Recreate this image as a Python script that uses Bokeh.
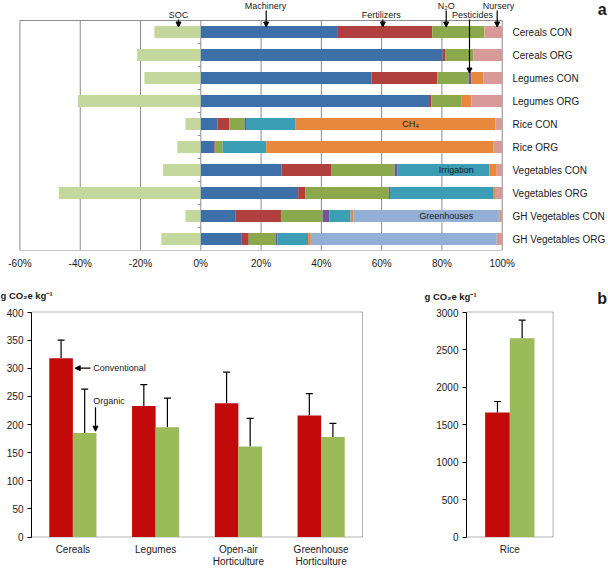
from bokeh.plotting import figure
from bokeh.models import (Range1d, Label, Arrow, NormalHead, TeeHead, Whisker, BoxAnnotation,
                          ColumnDataSource, PrintfTickFormatter, FixedTicker)
from bokeh.layouts import column, row
from bokeh.embed import file_html
from bokeh.resources import INLINE

FONT = "Liberation Sans"

# ---------------- data: panel a (share of emissions, %) ----------------
rows = ["Cereals CON", "Cereals ORG", "Legumes CON", "Legumes ORG", "Rice CON", "Rice ORG",
        "Vegetables CON", "Vegetables ORG", "GH Vegetables CON", "GH Vegetables ORG"]
soc = [-15.4, -21.1, -18.7, -40.8, -5.1, -7.8, -12.5, -47.1, -5.1, -13.1]
machinery = [45.5, 80.2, 56.6, 75.7, 5.5, 4.5, 26.8, 32.3, 11.6, 13.6]
fertilizers = [31.3, 1.0, 21.9, 0.8, 4.0, 0.4, 16.6, 2.4, 15.0, 2.3]
n2o = [17.3, 9.3, 10.4, 9.9, 5.0, 2.3, 20.9, 27.7, 13.8, 9.0]
pesticides = [0.0, 0.0, 0.9, 0.0, 0.5, 0.0, 1.0, 0.4, 2.2, 0.5]
irrigation = [0.0, 0.0, 0.0, 0.0, 16.3, 14.5, 30.4, 34.4, 7.1, 10.2]
ch4 = [0.0, 0.0, 4.0, 3.4, 66.4, 75.3, 2.5, 0.4, 0.9, 0.9]
greenhouses = [0.0, 0.0, 0.0, 0.0, 0.0, 0.0, 0.0, 0.0, 48.3, 61.7]
nursery = [5.9, 9.5, 6.2, 10.2, 2.3, 3.0, 1.8, 2.4, 1.1, 1.8]
pct_ticks = [-60, -40, -20, 0, 20, 40, 60, 80, 100]

# ---------------- data: panel b (g CO2e per kg) ----------------
groups = ["Cereals", "Legumes", "Open-air\nHorticulture", "Greenhouse\nHorticulture"]
conv = [318, 233, 238, 216]
conv_err = [32, 38, 55, 39]
org = [185, 195, 161, 178]
org_err = [78, 52, 50, 24]
rice_group = ["Rice"]
rice_conv = [1660]
rice_conv_err = [147]
rice_org = [2651]
rice_org_err = [240]
left_ticks = [0, 50, 100, 150, 200, 250, 300, 350, 400]
rice_ticks = [0, 500, 1000, 1500, 2000, 2500, 3000]

# ---------------- styles ----------------
stack_keys = ["machinery", "fertilizers", "n2o", "pesticides", "irrigation", "ch4",
              "greenhouses", "nursery"]
stack_colors = ["#3F6FA8", "#B0403D", "#8BA84C", "#6E5697", "#3B9EB4", "#E8883C",
                "#94AFD6", "#D89A99"]
soc_color = "#C4D89D"
red = "#C20A0A"
green = "#9BBA59"
grid_gray = "#8C8C8C"
TXT = "#1A1A1A"


def add_label(p, x, y, text, size="9px", align="center", bold=False, baseline="middle"):
    p.add_layout(Label(x=x, y=y, text=text, text_font=FONT, text_font_size=size,
                       text_align=align, text_baseline=baseline, text_color=TXT,
                       text_font_style="bold" if bold else "normal"))


def add_arrow(p, x0, y0, x1, y1, size=5):
    p.add_layout(Arrow(end=NormalHead(size=size, fill_color="black", line_color="black",
                                      line_width=1),
                       x_start=x0, y_start=y0, x_end=x1, y_end=y1,
                       line_color="black", line_width=1.2))


def bare(p):
    p.outline_line_color = None
    p.xgrid.grid_line_color = None
    p.ygrid.grid_line_color = None
    p.background_fill_color = "white"
    p.border_fill_color = "white"


# =============== panel a ===============
# reference-pixel -> data helpers (layout only)
def tx(rx):
    return (rx - 200.3) / 3.014


def ty(ry):
    return 10 - (ry - 20) / 23.0


n = len(rows)
ypos = [n - i - 0.5 for i in range(n)]

pa = figure(width=608, height=280, output_backend="svg", toolbar_location=None,
            x_range=Range1d(tx(0), tx(608)), y_range=Range1d(ty(250), ty(0)),
            y_axis_location=None, min_border_left=0, min_border_right=0,
            min_border_top=0, min_border_bottom=30)
bare(pa)

# frame box and vertical gridlines of the chart area
pa.segment(x0=pct_ticks, y0=0, x1=pct_ticks, y1=n, line_color=grid_gray, line_width=1)
pa.segment(x0=pct_ticks[0], y0=[0, n], x1=pct_ticks[-1], y1=[0, n], line_color=grid_gray,
           line_width=1)
# small category ticks on the zero line
pa.segment(x0=-1.0, y0=list(range(1, n)), x1=0, y1=list(range(1, n)), line_color=grid_gray,
           line_width=1)

src = ColumnDataSource(dict(y=ypos, cat=rows, soc=soc, machinery=machinery,
                            fertilizers=fertilizers, n2o=n2o, pesticides=pesticides,
                            irrigation=irrigation, ch4=ch4, greenhouses=greenhouses,
                            nursery=nursery))
pa.hbar(y="y", left="soc", right=0, height=0.52, source=src, fill_color=soc_color,
        line_color=None)
pa.hbar_stack(stack_keys, y="y", height=0.52, color=stack_colors, source=src,
              line_color=None)
pa.text(x=tx(512), y="y", text="cat", source=src, text_font={"value": FONT},
        text_font_size="10px", text_align="left", text_baseline="middle", text_color=TXT)

pa.xaxis.ticker = FixedTicker(ticks=pct_ticks)
pa.xaxis.formatter = PrintfTickFormatter(format="%d%%")
pa.xaxis.axis_line_color = None
pa.xaxis.major_tick_line_color = None
pa.xaxis.minor_tick_line_color = None
pa.xaxis.major_tick_out = 0
pa.xaxis.major_tick_in = 0
pa.xaxis.major_label_standoff = 7
pa.xaxis.major_label_text_font = FONT
pa.xaxis.major_label_text_font_size = "10px"
pa.xaxis.major_label_text_color = TXT

for text, rx in [("Machinery", 265), ("N₂O", 445.7), ("Nursery", 498)]:
    add_label(pa, tx(rx), ty(5), text)
for text, rx in [("SOC", 178), ("Fertilizers", 380.7), ("Pesticides", 472)]:
    add_label(pa, tx(rx), ty(14.5), text)
for rx, r0, r1 in [(178, 19, 26.5), (265.7, 10, 26.5), (382.3, 19, 26.5),
                   (445.7, 10, 26.5), (469, 19, 72.5), (496.7, 10, 26.5)]:
    add_arrow(pa, tx(rx), ty(r0), tx(rx), ty(r1))

add_label(pa, tx(410), 5.5, "CH₄")
add_label(pa, tx(455.7), 3.5, "Irrigation")
add_label(pa, tx(445.7), 1.5, "Greenhouses")
add_label(pa, tx(601.7), ty(8.5), "a", size="16px", bold=True)

# =============== strip with panel-b headings ===============
ps = figure(width=608, height=28, output_backend="svg", toolbar_location=None,
            x_range=Range1d(0, 608), y_range=Range1d(308, 280), x_axis_location=None,
            y_axis_location=None, min_border_left=0, min_border_right=0,
            min_border_top=0, min_border_bottom=0)
bare(ps)
add_label(ps, 0, 295, "g CO₂e kg⁻¹", size="9.5px", align="left", bold=True)
add_label(ps, 424, 296, "g CO₂e kg⁻¹", size="9.5px", align="left", bold=True)
add_label(ps, 601.7, 298, "b", size="16px", bold=True)

# =============== panel b ===============
BW = 0.285


def style_y(p, ticks):
    p.yaxis.ticker = FixedTicker(ticks=ticks)
    p.yaxis.bounds = (ticks[0], ticks[-1])
    p.yaxis.axis_line_color = "black"
    p.yaxis.major_tick_line_color = "black"
    p.yaxis.major_tick_out = 4
    p.yaxis.major_tick_in = 0
    p.yaxis.minor_tick_line_color = None
    p.yaxis.major_label_standoff = 4
    p.yaxis.major_label_text_font = FONT
    p.yaxis.major_label_text_font_size = "10px"
    p.yaxis.major_label_text_color = TXT


def bar_panel(p, cats, c_vals, c_err, o_vals, o_err, ytop, ylabel_y):
    k = len(cats)
    xc = [i + 0.5 for i in range(k)]
    s = ColumnDataSource(dict(xc=xc, xcon=[x - BW / 2 for x in xc],
                              xorg=[x + BW / 2 for x in xc], cat=cats,
                              con=c_vals, org=o_vals,
                              con_hi=[a + b for a, b in zip(c_vals, c_err)],
                              org_hi=[a + b for a, b in zip(o_vals, o_err)]))
    p.add_layout(BoxAnnotation(left=0, right=k, bottom=0, top=ytop, fill_alpha=0,
                               line_color="black", line_width=1, level="underlay"))
    p.vbar(x="xcon", top="con", width=BW, source=s, fill_color=red, line_color=None)
    p.vbar(x="xorg", top="org", width=BW, source=s, fill_color=green, line_color=None)
    for base, lo, hi in [("xcon", "con", "con_hi"), ("xorg", "org", "org_hi")]:
        p.add_layout(Whisker(base=base, lower=lo, upper=hi, source=s, dimension="height",
                             upper_head=TeeHead(size=7, line_color="black", line_width=1.2),
                             lower_head=None, line_color="black", line_width=1.2))
    p.text(x="xc", y=ylabel_y, text="cat", source=s, text_font={"value": FONT},
           text_font_size="10px", text_align="center", text_baseline="top",
           text_line_height=1.1, text_color=TXT)


def bx(rx):
    return (rx - 31) / 82.75


def by(ry):
    return (536.5 - ry) / 0.5625


pb = figure(width=390, height=260, output_backend="svg", toolbar_location=None,
            x_range=Range1d(0, bx(390)), y_range=Range1d(by(568), by(308)),
            x_axis_location=None, min_border_left=31, min_border_right=0,
            min_border_top=0, min_border_bottom=0)
bare(pb)
style_y(pb, left_ticks)
bar_panel(pb, groups, conv, conv_err, org, org_err, left_ticks[-1], by(543.5))
add_label(pb, bx(92.7), by(367.7), "Conventional", align="left")
add_arrow(pb, bx(90), by(367.7), bx(74.7), by(367.7))
add_label(pb, bx(92.7), by(400), "Organic", align="left")
add_arrow(pb, bx(95), by(406.7), bx(95), by(430.7))


def rxd(rx):
    return (rx - 466) / 86.6


def ryd(ry):
    return (536.5 - ry) / 0.075


pr = figure(width=218, height=260, output_backend="svg", toolbar_location=None,
            x_range=Range1d(0, rxd(608)), y_range=Range1d(ryd(568), ryd(308)),
            x_axis_location=None, min_border_left=76, min_border_right=0,
            min_border_top=0, min_border_bottom=0)
bare(pr)
style_y(pr, rice_ticks)
bar_panel(pr, rice_group, rice_conv, rice_conv_err, rice_org, rice_org_err,
          rice_ticks[-1], ryd(543.5))

layout = column(pa, ps, row(pb, pr, spacing=0), spacing=0)
open("out.html", "w").write(file_html(layout, INLINE))
